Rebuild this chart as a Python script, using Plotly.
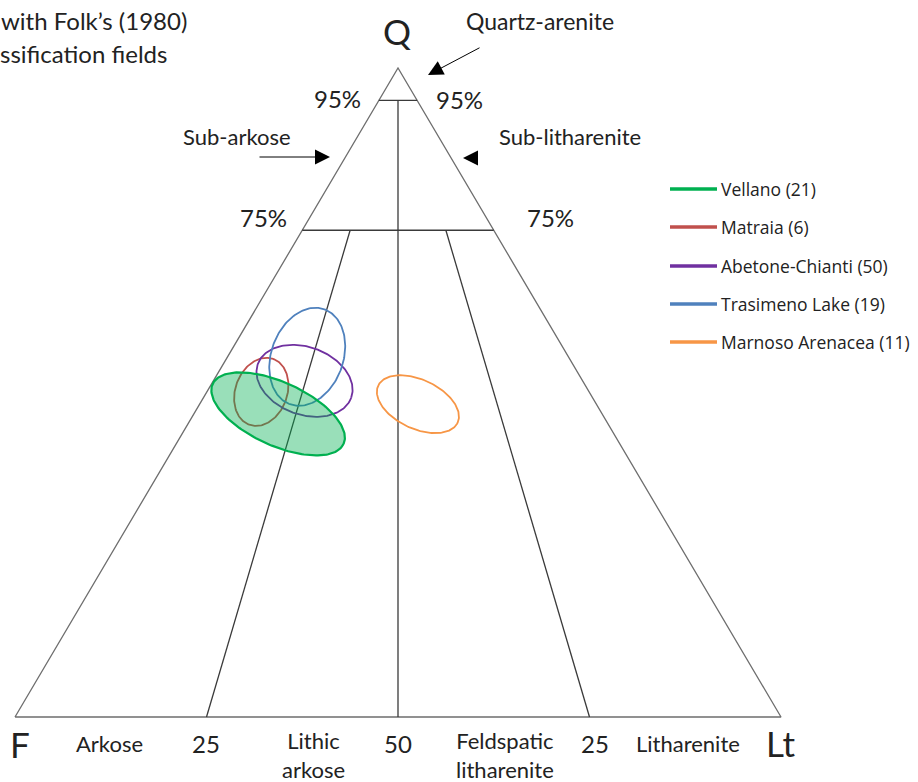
import numpy as np
import plotly.graph_objects as go

# ---------------- data ----------------
# Ellipse fields: centre composition (Q, F, Lt in %), semi-axes (in % of base), tilt (deg)
groups = ["Vellano (21)", "Matraia (6)", "Abetone-Chianti (50)", "Trasimeno Lake (19)", "Marnoso Arenacea (11)"]
centre_Q = [46.7, 50.1, 51.8, 55.5, 48.2]
centre_F = [42.3, 42.8, 36.3, 34.1, 23.3]
centre_Lt = [11.0, 7.1, 11.9, 10.4, 28.5]
semi_major = [9.40, 4.57, 6.48, 6.59, 5.72]
semi_minor = [4.13, 3.39, 4.41, 4.70, 3.21]
tilt_deg = [-24.6, 70.0, -20.0, 70.0, -25.0]
colors = ["#00B050", "#C0504D", "#7030A0", "#4F81BD", "#F79646"]
filled = [True, False, False, False, False]

# Folk (1980) classification boundaries as (Q, F, Lt) end points
outline_pts = [(0, 100, 0), (0, 0, 100), (100, 0, 0), (0, 100, 0)]
boundaries = [
    [(95, 5, 0), (95, 0, 5)],
    [(75, 25, 0), (75, 0, 25)],
    [(95, 2.5, 2.5), (0, 50, 50)],
    [(75, 18.75, 6.25), (0, 75, 25)],
    [(75, 6.25, 18.75), (0, 25, 75)],
]
base_labels = ["Arkose", "25", "Lithic<br>arkose", "50", "Feldspatic<br>litharenite", "25", "Litharenite"]

# ---------------- geometry ----------------
W, H = 918, 782
px_F, px_Lt, py_base, py_Q = 15, 781, 717, 68
sx = (px_Lt - px_F) / 100.0
sy = (py_base - py_Q) / 100.0


def to_xy(q, f, l):
    t = q + f + l
    return (l + q / 2.0) / t * 100.0, q / t * 100.0


def px(xp):
    return xp / W


def py(yp):
    return 1 - yp / H


fig = go.Figure()

# triangle outline
ox, oy = zip(*[to_xy(*p) for p in outline_pts])
fig.add_trace(go.Scatter(x=ox, y=oy, mode="lines", line=dict(color="#6e6e6e", width=1.3),
                         hoverinfo="skip", showlegend=False))
for seg in boundaries:
    bx, by = zip(*[to_xy(*p) for p in seg])
    fig.add_trace(go.Scatter(x=bx, y=by, mode="lines", line=dict(color="#3a3a3a", width=1.3),
                             hoverinfo="skip", showlegend=False))

# ellipses (green filled one drawn last, semi-transparent, on top)
order = [1, 2, 3, 4, 0]
t = np.linspace(0, 2 * np.pi, 181)
for i in order:
    cx, cy = to_xy(centre_Q[i], centre_F[i], centre_Lt[i])
    th = np.deg2rad(tilt_deg[i])
    u = semi_major[i] * np.cos(t)
    v = semi_minor[i] * np.sin(t)
    ex = cx + u * np.cos(th) - v * np.sin(th)
    ey = cy + (u * np.sin(th) + v * np.cos(th)) * sx / sy
    fig.add_trace(go.Scatter(
        x=ex, y=ey, mode="lines", name=groups[i],
        line=dict(color=colors[i], width=2.2 if filled[i] else 1.8),
        fill="toself" if filled[i] else None,
        fillcolor="rgba(0,176,80,0.40)" if filled[i] else None,
        hoverinfo="name", showlegend=False))

ann = []
FONT = "Lato, Open Sans, sans-serif"
TXT = "#222222"


def label(text, xp, yp, size, **kw):
    d = dict(text=text, x=px(xp), y=py(yp), xref="paper", yref="paper", showarrow=False,
             font=dict(family=FONT, size=size, color=TXT), xanchor="center", yanchor="middle")
    d.update(kw)
    ann.append(d)


# title (partly outside the page, as in the original)
label("QFL diagram with Folk\u2019s (1980)", 189, 21, 24, xanchor="right")
label("classification fields", 169, 54, 24, xanchor="right")

label("Q", 397, 31, 35)
label("Quartz-arenite", 540, 21, 23)
label("95%", 337, 98, 24)
label("95%", 459, 100, 24)
label("Sub-arkose", 237, 137, 22)
label("Sub-litharenite", 570, 137, 22)
label("75%", 263, 217, 24)
label("75%", 550, 217, 24)
label("F", 20, 744, 35)
label("Lt", 780, 743, 35)

base_x = [109, 206, 313, 398, 505, 595, 688]
for txt, bxp in zip(base_labels, base_x):
    if "<br>" in txt:
        label(txt, bxp, 755, 22)
    elif txt[0].isalpha():
        label(txt, bxp, 743, 22)
    else:
        label(txt, bxp, 743, 24)

# arrows
def arrow(hx, hy, tx, ty, size=3.0):
    ann.append(dict(x=px(hx), y=py(hy), xref="paper", yref="paper", text="", showarrow=True,
                    ax=tx - hx, ay=ty - hy, arrowhead=2, arrowsize=size, arrowwidth=1,
                    arrowcolor="#000000"))


arrow(428, 75, 481, 47)
arrow(330, 157, 258, 157)
arrow(463, 158, 477, 158)

# manual legend
shapes = []
leg_y = [189, 227, 266, 304, 342]
for name, col, ly in zip(groups, colors, leg_y):
    shapes.append(dict(type="line", xref="paper", yref="paper", x0=px(670), x1=px(717),
                       y0=py(ly), y1=py(ly), line=dict(color=col, width=3.5)))
    ann.append(dict(text=name, x=px(719), y=py(ly), xref="paper", yref="paper", showarrow=False,
                    xanchor="left", yanchor="middle",
                    font=dict(family="Open Sans, sans-serif", size=17.5, color=TXT)))

fig.update_layout(
    width=W, height=H, margin=dict(l=0, r=0, t=0, b=0),
    paper_bgcolor="white", plot_bgcolor="white",
    xaxis=dict(range=[-px_F / sx, (W - px_F) / sx], visible=False, fixedrange=True),
    yaxis=dict(range=[-(H - py_base) / sy, py_base / sy], visible=False, fixedrange=True),
    annotations=ann, shapes=shapes, showlegend=False,
)

fig.write_html("out.html", config={"displayModeBar": False},
               post_script="document.body.style.margin='0';document.body.style.overflow='hidden';")
